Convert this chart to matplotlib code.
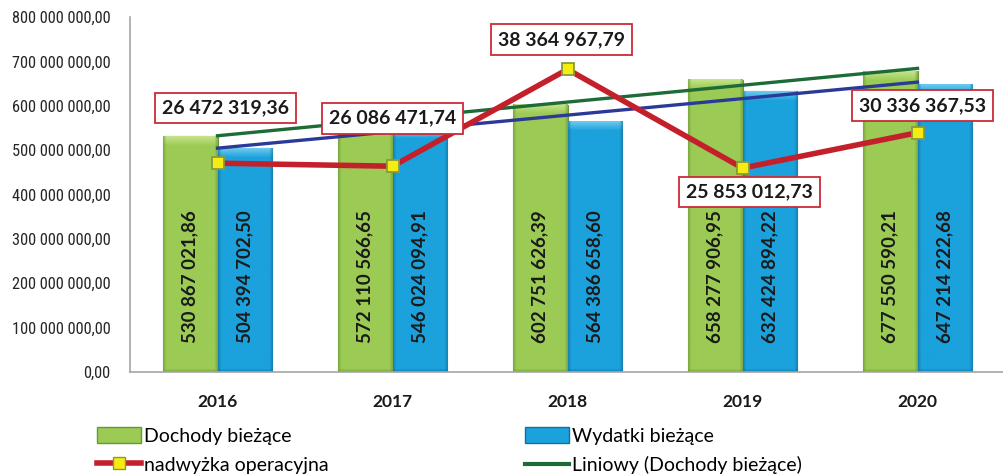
import numpy as np
import matplotlib
matplotlib.use('Agg')
from matplotlib import pyplot as plt
from matplotlib.ticker import FuncFormatter
from matplotlib.patches import Patch
from matplotlib.lines import Line2D
from matplotlib.colors import to_rgb

years = ['2016', '2017', '2018', '2019', '2020']
dochody = [530867021.86, 572110566.65, 602751626.39, 658277906.95, 677550590.21]
wydatki = [504394702.50, 546024094.91, 564386658.60, 632424894.22, 647214222.68]
nadwyzka = [26472319.36, 26086471.74, 38364967.79, 25853012.73, 30336367.53]


def pl(v):
    return f'{v:,.2f}'.replace(',', ' ').replace('.', ',')


def bevel(ax, patch, base, light, dark):
    # paint a simple bevelled fill inside a bar
    bb = patch.get_window_extent()
    W, H = max(int(bb.width), 4), max(int(bb.height), 4)
    img = np.ones((H, W, 3)) * np.array(to_rgb(base))
    t = 9
    for i in range(min(t, H)):
        f = 1 - i / t
        img[i, :, :] = np.array(to_rgb(light)) * f + img[i, :, :] * (1 - f)
    e = 3
    for j in range(e):
        f = 0.6 * (1 - j / e)
        img[:, j, :] = np.array(to_rgb(dark)) * f + img[:, j, :] * (1 - f)
        img[:, W - 1 - j, :] = np.array(to_rgb(dark)) * f + img[:, W - 1 - j, :] * (1 - f)
        img[H - 1 - j, :, :] = np.array(to_rgb(dark)) * f + img[H - 1 - j, :, :] * (1 - f)
    x0, y0 = patch.get_x(), patch.get_y()
    ax.imshow(img, extent=(x0, x0 + patch.get_width(), y0, y0 + patch.get_height()),
              aspect='auto', interpolation='bilinear', zorder=2.1, clip_path=patch)


plt.rcParams['font.family'] = ['Lato', 'DejaVu Sans']
green, green_l, green_e = '#9ccb55', '#c4e38c', '#6a9634'
blue, blue_l, blue_e = '#1ba1dc', '#6ccaef', '#127099'
red = '#c4202b'

fig = plt.figure(figsize=(10.04, 4.75), dpi=100)
ax = fig.add_axes([0.1295, 0.2168, 0.8715, 0.7474])
x = np.arange(len(years))
w = 0.314
ax.set_xlim(-0.5, 4.5)
ax.set_ylim(0, 800e6)
b1 = ax.bar(x - w / 2, dochody, w, color=green, edgecolor=green_e, linewidth=0.8, zorder=2)
b2 = ax.bar(x + w / 2, wydatki, w, color=blue, edgecolor=blue_e, linewidth=0.8, zorder=2)
for p in b1:
    bevel(ax, p, green, green_l, green_e)
for p in b2:
    bevel(ax, p, blue, blue_l, blue_e)
ax.set_xlim(-0.5, 4.5)
ax.set_ylim(0, 800e6)

for xi, v in zip(x - w / 2, dochody):
    ax.annotate(pl(v), (xi, 0), xytext=(0, 29), textcoords='offset pixels', rotation=90,
                ha='center', va='bottom', fontsize=13.5, fontweight='bold', color='#1a1a1a', zorder=5)
for xi, v in zip(x + w / 2, wydatki):
    ax.annotate(pl(v), (xi, 0), xytext=(0, 29), textcoords='offset pixels', rotation=90,
                ha='center', va='bottom', fontsize=13.5, fontweight='bold', color='#1a1a1a', zorder=5)

# linear trends
pg = np.polyfit(x, dochody, 1)
pb = np.polyfit(x, wydatki, 1)
ax.plot(x, np.polyval(pg, x), color='#1d6b36', lw=2.4, zorder=3)
ax.plot(x, np.polyval(pb, x), color='#2b3a98', lw=2.4, zorder=3)

ax.set_yticks(np.arange(0, 800e6 + 1, 100e6))
ax.yaxis.set_major_formatter(FuncFormatter(lambda v, p: pl(v)))
for lab in ax.get_yticklabels():
    lab.set_family(['Liberation Sans Narrow', 'DejaVu Sans Condensed', 'Roboto Condensed',
                    'Liberation Sans'])
    lab.set_fontsize(11.8)
    lab.set_color('#262626')
ax.set_xticks(x)
ax.set_xticklabels(years, fontsize=12.5, fontweight='bold', color='#1a1a1a')
ax.tick_params(axis='x', length=0, pad=16)
ax.tick_params(axis='y', length=0, pad=14)
for s in ['top', 'right']:
    ax.spines[s].set_visible(False)
for s in ['left', 'bottom']:
    ax.spines[s].set_color('#a6a6a6')
    ax.spines[s].set_linewidth(1.2)

# operating surplus on hidden secondary axis
ax2 = ax.twinx()
ax2.set_ylim(0, 45e6)
ax2.axis('off')
ax2.plot(x, nadwyzka, color=red, lw=4, marker='s', ms=8, mfc='#f5ec12', mec='#8a9a3a',
         mew=1.3, zorder=4)
offs = [(8, 55), (0, 48), (-6, 30), (7, -24), (5, 27)]
for xi, v, (dx, dy) in zip(x, nadwyzka, offs):
    ax2.annotate(pl(v), (xi, v), xytext=(dx, dy), textcoords='offset pixels', ha='center',
                 va='center', fontsize=14, fontweight='bold', color='#1a1a1a', zorder=6,
                 bbox=dict(boxstyle='square,pad=0.35', fc='white', ec='#cc2a36', lw=1.3))

handles = [
    Patch(facecolor=green, edgecolor=green_e),
    Patch(facecolor=blue, edgecolor=blue_e),
    Line2D([], [], color=red, lw=4, marker='s', ms=8, mfc='#f5ec12', mec='#8a9a3a'),
    Line2D([], [], color='#1d6b36', lw=3),
]
labels = ['Dochody bieżące', 'Wydatki bieżące', 'nadwyżka operacyjna', 'Liniowy (Dochody bieżące)']
order = [0, 2, 1, 3]
fig.legend([handles[i] for i in order], [labels[i] for i in order], ncol=2,
           loc='upper left', bbox_to_anchor=(0.097, 0.101), frameon=False, fontsize=14,
           handlelength=2.26, handleheight=0.85, handletextpad=0.15, columnspacing=10.1,
           labelspacing=0.6, borderpad=0, borderaxespad=0)

fig.savefig('out.png', dpi=100)
